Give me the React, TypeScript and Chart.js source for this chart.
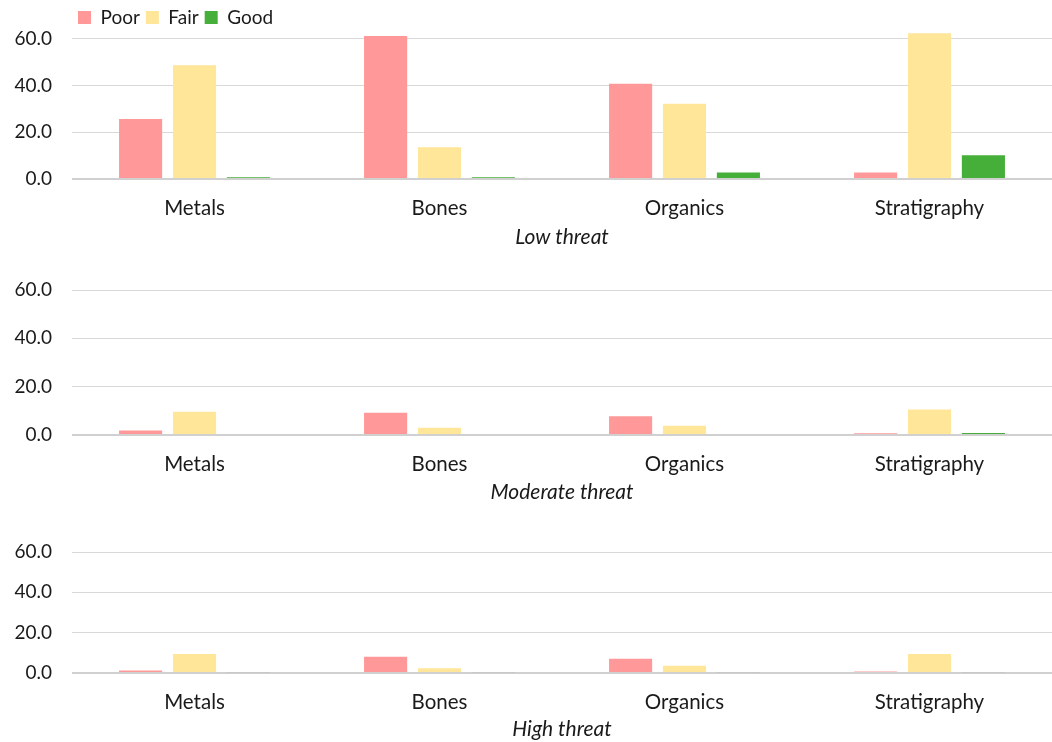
import React, { useEffect, useRef } from "react";
import { Chart, registerables } from "chart.js";

Chart.register(...registerables);

const categories = ["Metals", "Bones", "Organics", "Stratigraphy"];
const seriesNames = ["Poor", "Fair", "Good"];

const lowPoor = [25.7, 61.1, 40.7, 2.8];
const lowFair = [48.6, 13.6, 32.2, 62.3];
const lowGood = [0.8, 0.8, 2.8, 10.2];

const modPoor = [1.9, 9.2, 7.8, 0.7];
const modFair = [9.6, 3.0, 3.8, 10.6];
const modGood = [0.4, 0.4, 0.4, 0.8];

const highPoor = [1.2, 8.1, 7.1, 0.8];
const highFair = [9.4, 2.3, 3.6, 9.4];
const highGood = [0.3, 0.3, 0.3, 0.3];

const yTicks = [0, 20, 40, 60];

const POOR = "#FF9999";
const FAIR = "#FFE699";
const GOOD = "#46AF3A";
const GOOD_HIGH = "#BFBFBF";
const FONT = "Lato, 'Open Sans', sans-serif";
const TEXT = "#1a1a1a";

type PanelProps = {
  top: number;
  height: number;
  title: string;
  poor: number[];
  fair: number[];
  good: number[];
  goodColor: string;
  legend: boolean;
  yMax: number;
  padTop: number;
  axisHeight: number;
  labelPad: number;
  titlePadBottom: number;
};

function Panel(p: PanelProps) {
  const ref = useRef<HTMLCanvasElement | null>(null);
  useEffect(() => {
    if (!ref.current) return;
    const chart = new Chart(ref.current, {
      type: "bar",
      data: {
        labels: categories,
        datasets: [
          { label: seriesNames[0], data: p.poor, backgroundColor: POOR },
          { label: seriesNames[1], data: p.fair, backgroundColor: FAIR },
          { label: seriesNames[2], data: p.good, backgroundColor: p.goodColor },
        ],
      },
      options: {
        animation: false,
        responsive: false,
        maintainAspectRatio: false,
        layout: { padding: { top: p.padTop, left: 0, right: 0, bottom: 0 } },
        datasets: { bar: { categoryPercentage: 0.66, barPercentage: 0.8, clip: false } },
        plugins: {
          tooltip: { enabled: false },
          legend: {
            display: p.legend,
            position: "top",
            align: "start",
            fullSize: false,
            labels: {
              boxWidth: 13,
              boxHeight: 13,
              padding: 6,
              color: TEXT,
              font: { family: FONT, size: 19 },
            },
          },
        },
        scales: {
          x: {
            grid: { display: false, drawTicks: false },
            border: { display: false },
            ticks: {
              color: TEXT,
              padding: p.labelPad,
              font: { family: FONT, size: 20.5 },
            },
            title: {
              display: true,
              text: p.title,
              color: TEXT,
              font: { family: FONT, size: 21, style: "italic" },
              padding: { top: 0, bottom: p.titlePadBottom },
            },
            afterFit: (s: any) => {
              s.height = p.axisHeight;
            },
          },
          y: {
            min: 0,
            max: p.yMax,
            grid: {
              drawTicks: false,
              color: (c: any) => (c.tick && c.tick.value === 0 ? "#d0d0d0" : "#d9d9d9"),
              lineWidth: (c: any) => (c.tick && c.tick.value === 0 ? 2 : 1),
            },
            border: { display: false },
            ticks: {
              color: TEXT,
              padding: 20,
              font: { family: FONT, size: 19 },
              callback: (v: any) => Number(v).toFixed(1),
            },
            afterBuildTicks: (axis: any) => {
              axis.ticks = yTicks.map((v) => ({ value: v }));
            },
            afterFit: (s: any) => {
              s.width = 72;
              s.paddingTop = 0;
              s.paddingBottom = 0;
            },
          },
        },
      } as any,
    });
    return () => chart.destroy();
  }, []);
  return (
    <div style={{ position: "absolute", left: 0, top: p.top, width: 1052, height: p.height }}>
      <canvas ref={ref} width={1052} height={p.height} style={{ width: 1052, height: p.height }} />
    </div>
  );
}

export default function App() {
  return (
    <div style={{ position: "fixed", left: 0, top: 0, width: 1052, height: 742, background: "#fff" }}>
      <Panel
        top={0}
        height={256}
        title="Low threat"
        poor={lowPoor}
        fair={lowFair}
        good={lowGood}
        goodColor={GOOD}
        legend={true}
        yMax={60.7}
        padTop={2}
        axisHeight={77}
        labelPad={17}
        titlePadBottom={6}
      />
      <Panel
        top={270}
        height={241}
        title="Moderate threat"
        poor={modPoor}
        fair={modFair}
        good={modGood}
        goodColor={GOOD}
        legend={false}
        yMax={60}
        padTop={20}
        axisHeight={76}
        labelPad={17}
        titlePadBottom={6}
      />
      <Panel
        top={540}
        height={202}
        title="High threat"
        poor={highPoor}
        fair={highFair}
        good={highGood}
        goodColor={GOOD_HIGH}
        legend={false}
        yMax={60}
        padTop={12}
        axisHeight={69}
        labelPad={17}
        titlePadBottom={0}
      />
    </div>
  );
}
